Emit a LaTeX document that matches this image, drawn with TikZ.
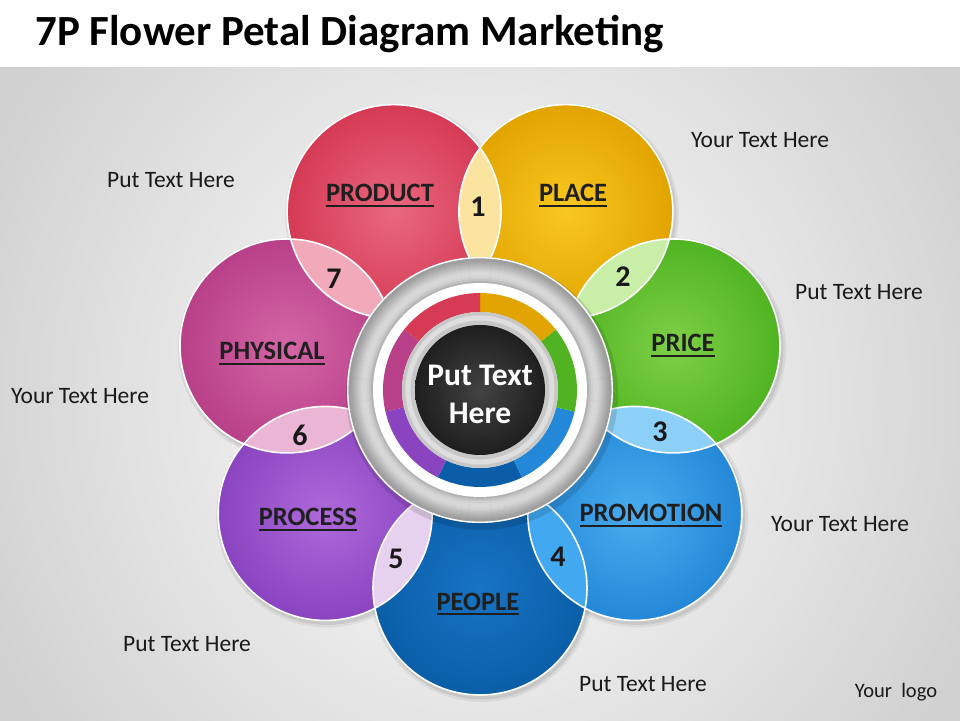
\documentclass[tikz,border=0pt]{standalone}
\usepackage{fontspec}
\setmainfont{Carlito}
\definecolor{prodI}{HTML}{E8687F}\definecolor{prodO}{HTML}{D63A55}
\definecolor{placeI}{HTML}{F8C820}\definecolor{placeO}{HTML}{E2A400}
\definecolor{priceI}{HTML}{7ED046}\definecolor{priceO}{HTML}{50B422}
\definecolor{promoI}{HTML}{4AACEE}\definecolor{promoO}{HTML}{2488D8}
\definecolor{pplI}{HTML}{1874C4}\definecolor{pplO}{HTML}{0A5EA8}
\definecolor{procI}{HTML}{AE6ADA}\definecolor{procO}{HTML}{8A44C0}
\definecolor{physI}{HTML}{D466A6}\definecolor{physO}{HTML}{B84088}
\definecolor{lensA}{HTML}{FBE3A0}
\definecolor{lensB}{HTML}{C8EEA8}
\definecolor{lensC}{HTML}{8CD0F8}
\definecolor{lensD}{HTML}{42A8F0}
\definecolor{lensE}{HTML}{E6D2EE}
\definecolor{lensF}{HTML}{EBB5D5}
\definecolor{lensG}{HTML}{F2AABA}
\newcommand\ulbox[1]{\vtop{\hbox{#1}\kern2.5pt\hrule height 1.9pt}}
\tikzset{
  petallabel/.style={font=\bfseries\fontsize{26.5}{30}\selectfont, text=black!88, inner sep=0pt, anchor=base},
  numlabel/.style={font=\bfseries\fontsize{30}{32}\selectfont, text=black!90, inner sep=0pt},
  sidetext/.style={font=\fontsize{23.5}{27}\selectfont, text=black!90, inner sep=0pt},
}
\begin{document}
\begin{tikzpicture}[x=1pt,y=1pt]
\useasboundingbox (0,0) rectangle (960,720);
\fill[white] (0,0) rectangle (960,720);
\begin{scope}
  \clip (0,0) rectangle (960,652);
  \shade[inner color=white, outer color=black!18] (-60,-250) rectangle (1020,900);
\end{scope}
% title
\node[anchor=base west, inner sep=0pt, font=\bfseries\fontsize{43}{46}\selectfont] (title) at (35,674) {7P Flower Petal Diagram Marketing};
% petal centres
\coordinate (C) at (480,330);
\foreach \n/\a in {people/-90, promo/-38.571, price/12.857, place/64.286, product/115.714, physical/167.143, process/218.571}
  \path (C) ++(\a:198) coordinate (\n);
% shadows
\foreach \n in {people,promo,price,place,product,physical,process}{
  \fill[black, opacity=0.06] ([shift={(2,-3)}]\n) circle (111pt);
  \fill[black, opacity=0.08] ([shift={(2,-3)}]\n) circle (108.5pt);
}
% petals
\foreach \n/\ci/\co in {people/pplI/pplO, promo/promoI/promoO, price/priceI/priceO, place/placeI/placeO, product/prodI/prodO, physical/physI/physO, process/procI/procO}
  \shade[inner color=\ci, outer color=\co] (\n) circle (107pt);
% lenses
\foreach \a/\b/\c in {product/place/lensA, place/price/lensB, price/promo/lensC, promo/people/lensD, people/process/lensE, process/physical/lensF, physical/product/lensG}{
  \begin{scope}
    \clip (\a) circle (107pt);
    \fill[\c] (\b) circle (107pt);
  \end{scope}
}
% outlines
\foreach \n in {people,promo,price,place,product,physical,process}
  \draw[white, line width=1.6pt] (\n) circle (107pt);
% petal labels
\node[petallabel] (lproduct) at (380,518) {\ulbox{PRODUCT}};
\node[petallabel] (lplace) at (573,518) {\ulbox{PLACE}};
\node[petallabel] (lprice) at (683,368) {\ulbox{PRICE}};
\node[petallabel] (lpromo) at (651,198) {\ulbox{PROMOTION}};
\node[petallabel] (lpeople) at (478,110) {\ulbox{PEOPLE}};
\node[petallabel] (lprocess) at (308,194) {\ulbox{PROCESS}};
\node[petallabel] (lphysical) at (272,360) {\ulbox{PHYSICAL}};
% numbers
\node[numlabel] (n1) at (478,513) {1};
\node[numlabel] (n2) at (623,443) {2};
\node[numlabel] (n3) at (660,288) {3};
\node[numlabel] (n4) at (558,163) {4};
\node[numlabel] (n5) at (396,161) {5};
\node[numlabel] (n6) at (300,285) {6};
\node[numlabel] (n7) at (334,441) {7};
% side texts
\node[sidetext] (s1) at (171,540) {Put Text Here};
\node[sidetext] (s2) at (760,580) {Your Text Here};
\node[sidetext] (s3) at (859,428) {Put Text Here};
\node[sidetext] (s4) at (80,324) {Your Text Here};
\node[sidetext] (s5) at (840,196) {Your Text Here};
\node[sidetext] (s6) at (187,76) {Put Text Here};
\node[sidetext] (s7) at (643,36) {Put Text Here};
\node[sidetext, font=\fontsize{20.5}{23}\selectfont] (logo) at (896,28) {Your\ \ logo};
% centre hub
\fill[black, opacity=0.12] ([shift={(2,-4)}]C) circle (136pt);
\fill[black!38] (C) circle (133pt);
\foreach \r/\g in {108/30,110/24,112/19,114/16,116/15,118/16,120/19,122/23,124/27,126/31,128/35,130/38}
  \draw[black!\g, line width=2.3pt] (C) circle (\r pt);
\draw[white, line width=1.4pt] (C) circle (132.3pt);
\fill[white] (C) circle (107pt);
\foreach \a/\c in {-90/pplO, -38.571/promoO, 12.857/priceO, 64.286/placeO, 115.714/prodO, 167.143/physO, 218.571/procO}{
  \pgfmathsetmacro\aa{\a-25.714}
  \pgfmathsetmacro\ab{\a+25.714}
  \fill[\c] ([shift={(\aa:97)}]C) arc[start angle=\aa, end angle=\ab, radius=97pt]
     -- ([shift={(\ab:78)}]C) arc[start angle=\ab, end angle=\aa, radius=78pt] -- cycle;
}
\fill[black!22] (C) circle (78pt);
\draw[black!13, line width=5pt] (C) circle (72pt);
\shade[inner color=black!74, outer color=black!88] (C) circle (65pt);
\node[text=white, font=\bfseries\fontsize{31.5}{38}\selectfont, align=center, inner sep=0pt] (ctext) at (480,326) {Put Text\\Here};
\end{tikzpicture}
\end{document}
